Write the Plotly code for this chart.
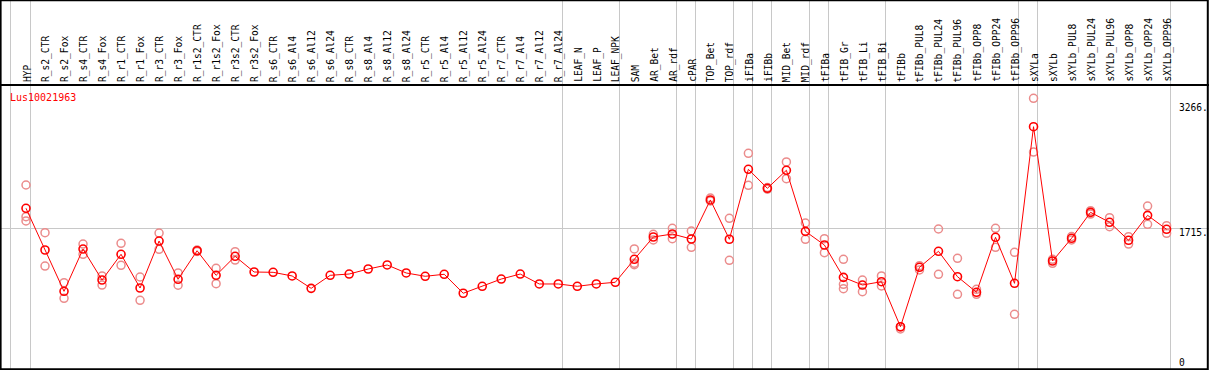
import plotly.graph_objects as go

categories = ["HYP", "R_s2_CTR", "R_s2_Fox", "R_s4_CTR", "R_s4_Fox", "R_r1_CTR", "R_r1_Fox",
              "R_r3_CTR", "R_r3_Fox", "R_r1s2_CTR", "R_r1s2_Fox", "R_r3s2_CTR", "R_r3s2_Fox",
              "R_s6_CTR", "R_s6_Al4", "R_s6_Al12", "R_s6_Al24", "R_s8_CTR", "R_s8_Al4",
              "R_s8_Al12", "R_s8_Al24", "R_r5_CTR", "R_r5_Al4", "R_r5_Al12", "R_r5_Al24",
              "R_r7_CTR", "R_r7_Al4", "R_r7_Al12", "R_r7_Al24", "LEAF_N", "LEAF_P", "LEAF_NPK",
              "SAM", "AR_Bet", "AR_rdf", "cPAR", "TOP_Bet", "TOP_rdf", "iFIBa", "iFIBb",
              "MID_Bet", "MID_rdf", "tFIBa", "tFIB_Gr", "tFIB_Li", "tFIB_Bi", "tFIBb",
              "tFIBb_PUL8", "tFIBb_PUL24", "tFIBb_PUL96", "tFIBb_OPP8", "tFIBb_OPP24",
              "tFIBb_OPP96", "sXYLa", "sXYLb", "sXYLb_PUL8", "sXYLb_PUL24", "sXYLb_PUL96",
              "sXYLb_OPP8", "sXYLb_OPP24", "sXYLb_OPP96"]

mean_values = [1963, 1447, 936, 1459, 1076, 1394, 977, 1558, 1085, 1438, 1134, 1369, 1175,
               1171, 1126, 973, 1134, 1150, 1212, 1262, 1163, 1122, 1147, 912, 998, 1088,
               1150, 1027, 1027, 998, 1027, 1048, 1332, 1608, 1645, 1583, 2066, 1580, 2445,
               2210, 2433, 1678, 1509, 1109, 1014, 1055, 498, 1233, 1431, 1117, 924, 1604,
               1035, 2972, 1311, 1592, 1913, 1790, 1567, 1876, 1703]

rep1 = [2251, 1661, 1043, 1521, 1126, 1530, 1113, 1657, 1163, 1430, 1221, 1426, None,
        None, None, None, None, None, None, None, None, None, None, None, None, None,
        None, None, None, None, None, None, 1460, 1641, 1715, 1682, 2090, 1839, 2643,
        2200, 2536, 1781, 1587, 1332, 1076, 1126, 495, 1253, 1707, 1344, 961, 1715,
        1419, 3323, 1332, 1614, 1933, 1847, 1612, 1991, 1748]
rep2 = [1859, 1249, 850, 1394, 1014, 1258, 825, 1456, 1011, 1446, 1030, 1323, None,
        None, None, None, None, None, None, None, None, None, None, None, None, None,
        None, None, None, None, None, None, 1283, 1571, 1587, 1480, 2053, 1320, 2247,
        2220, 2329, 1579, 1414, 1023, 931, 1002, 470, 1200, 1147, 899, 899, 1480,
        652, 2659, 1283, 1571, 1892, 1735, 1521, 1765, 1654]
rep3 = [1806, None, None, None, None, None, None, None, None, None, None, None, None,
        None, None, None, None, None, None, None, None, None, None, None, None, None,
        None, None, None, None, None, None, 1265, None, None, None, None, None, None,
        None, None, None, None, 968, None, None, None, None, None, None, None, None,
        None, None, None, None, None, None, None, None, None]

separators = [-0.8, 0.22, 28.22, 31.22, 34.22, 35.22, 37.22, 38.22, 39.22, 41.22, 42.22,
              45.22, 52.22, 53.22, 60.22]
axis_labels = ["3266.", "1715.", "0"]
axis_label_px = [107.3, 232.7, 362]
gene_name = "Lus10021963"

FONT = "DejaVu Sans Mono"
W, H = 1209, 370
label_top_px = 85
x_idx = list(range(len(categories)))

fig = go.Figure()
for rep in (rep1, rep2, rep3):
    fig.add_trace(go.Scatter(
        x=x_idx, y=rep, mode="markers",
        marker=dict(symbol="circle-open", size=8, color="rgba(235,140,140,1)",
                    line=dict(width=1.5)),
        hoverinfo="skip", showlegend=False))
fig.add_trace(go.Scatter(
    x=x_idx, y=mean_values, mode="lines+markers",
    line=dict(color="#ff0000", width=1),
    marker=dict(symbol="circle-open", size=8, color="#ff0000", line=dict(width=1.6)),
    showlegend=False))

annotations = []
label_y = 1 - (label_top_px - 2) / H
for i, c in enumerate(categories):
    annotations.append(dict(x=i, y=label_y, xref="x", yref="paper", text=c,
                            textangle=-90, showarrow=False, xanchor="center",
                            yanchor="bottom", borderpad=0, xshift=1,
                            font=dict(family=FONT, size=9.6, color="black")))
for txt, py in zip(axis_labels, axis_label_px):
    annotations.append(dict(x=1178 / W, y=1 - py / H, xref="paper", yref="paper", text=txt,
                            showarrow=False, xanchor="left", yanchor="middle",
                            borderpad=0,
                            font=dict(family=FONT, size=9.6, color="black")))
annotations.append(dict(x=0, y=1 - 97 / H, xref="paper", yref="paper", text=gene_name,
                        showarrow=False, xanchor="left", yanchor="middle", xshift=9,
                        borderpad=0, font=dict(family=FONT, size=10, color="#ff0000")))

shapes = [
    dict(type="rect", xref="paper", yref="paper", x0=0.0005, x1=0.999, y0=0.002, y1=0.999,
         line=dict(color="black", width=2)),
    dict(type="line", xref="paper", yref="paper", x0=0, x1=1,
         y0=1 - label_top_px / H, y1=1 - label_top_px / H,
         line=dict(color="black", width=2)),
]

px_per_unit = 0.08085
zero_px = 367
y_min = (zero_px - H) / px_per_unit
y_max = zero_px / px_per_unit
idx_per_px = 1 / 19.01
x_min = -26 * idx_per_px
x_max = x_min + W * idx_per_px

fig.update_layout(
    width=W, height=H, margin=dict(l=0, r=0, t=0, b=0),
    paper_bgcolor="white", plot_bgcolor="white",
    xaxis=dict(range=[x_min, x_max], tickvals=separators, showticklabels=False,
               showgrid=True, gridcolor="#c8c8c8", gridwidth=1, zeroline=False,
               ticks="", showline=False, fixedrange=True),
    yaxis=dict(range=[y_min, y_max], tickvals=[1715], showticklabels=False,
               showgrid=True, gridcolor="#c8c8c8", gridwidth=1, zeroline=False,
               ticks="", showline=False, fixedrange=True),
    annotations=annotations, shapes=shapes,
)
fig.write_html(
    "out.html",
    config={"displayModeBar": False},
    post_script="document.body.style.margin='0';document.body.style.overflow='hidden';",
)
